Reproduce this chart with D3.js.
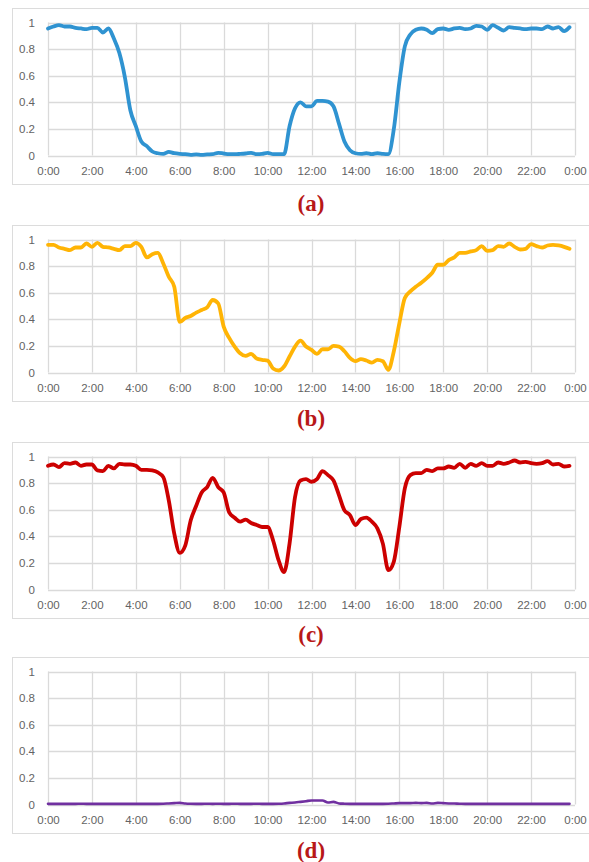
<!DOCTYPE html>
<html>
<head>
<meta charset="utf-8">
<script src="https://cdn.jsdelivr.net/npm/d3@7"></script>
<style>
  body { margin: 0; background: #fff; }
  svg { display: block; }
  .tick text { font-family: "Liberation Sans", Arial, sans-serif; font-size: 11.5px; fill: #636363; }
</style>
</head>
<body>
<svg id="chart"></svg>
<script>
// x categories: one reading every 15 minutes, 0:00 .. 23:45
const stepMinutes = 15;
const timeTicks = [0, 120, 240, 360, 480, 600, 720, 840, 960, 1080, 1200, 1320, 1440];
const timeLabels = ['0:00', '2:00', '4:00', '6:00', '8:00', '10:00', '12:00', '14:00', '16:00', '18:00', '20:00', '22:00', '0:00'];
const yTicks = [0, 0.2, 0.4, 0.6, 0.8, 1];
const yLabels = ['0', '0.2', '0.4', '0.6', '0.8', '1'];

const seriesA = [
  0.955, 0.97, 0.98, 0.97, 0.97, 0.96, 0.955, 0.95, 0.96, 0.96, 0.925, 0.955,
  0.88, 0.77, 0.59, 0.34, 0.22, 0.105, 0.07, 0.03, 0.017, 0.012, 0.027, 0.017,
  0.012, 0.01, 0.005, 0.008, 0.005, 0.008, 0.01, 0.02, 0.015, 0.01, 0.01, 0.012,
  0.015, 0.02, 0.01, 0.012, 0.02, 0.01, 0.01, 0.01, 0.22, 0.355, 0.40, 0.37,
  0.37, 0.41, 0.41, 0.405, 0.37, 0.24, 0.105, 0.04, 0.017, 0.012, 0.017, 0.01,
  0.017, 0.012, 0.01, 0.2, 0.55, 0.82, 0.91, 0.945, 0.955, 0.945, 0.92, 0.95,
  0.955, 0.945, 0.955, 0.96, 0.95, 0.955, 0.975, 0.97, 0.945, 0.98, 0.96, 0.94,
  0.965, 0.96, 0.955, 0.95, 0.955, 0.955, 0.95, 0.97, 0.955, 0.965, 0.935, 0.965
];
const seriesB = [
  0.96, 0.96, 0.94, 0.93, 0.92, 0.94, 0.94, 0.97, 0.945, 0.975, 0.945, 0.94,
  0.93, 0.92, 0.95, 0.95, 0.975, 0.945, 0.865, 0.89, 0.90, 0.82, 0.72, 0.645,
  0.38, 0.41, 0.425, 0.45, 0.47, 0.49, 0.545, 0.52, 0.345, 0.26, 0.195, 0.145,
  0.125, 0.14, 0.105, 0.095, 0.09, 0.03, 0.015, 0.045, 0.12, 0.195, 0.24, 0.195,
  0.17, 0.14, 0.175, 0.175, 0.2, 0.195, 0.16, 0.11, 0.085, 0.1, 0.09, 0.075,
  0.095, 0.085, 0.02, 0.16, 0.37, 0.56, 0.61, 0.645, 0.675, 0.71, 0.75, 0.81,
  0.81, 0.845, 0.865, 0.90, 0.90, 0.91, 0.92, 0.95, 0.915, 0.92, 0.95, 0.945,
  0.97, 0.945, 0.925, 0.93, 0.965, 0.95, 0.94, 0.955, 0.96, 0.955, 0.945, 0.93
];
const seriesC = [
  0.93, 0.94, 0.92, 0.95, 0.945, 0.955, 0.93, 0.94, 0.94, 0.895, 0.89, 0.93,
  0.91, 0.945, 0.94, 0.94, 0.93, 0.90, 0.90, 0.895, 0.88, 0.845, 0.67, 0.42,
  0.275, 0.33, 0.52, 0.63, 0.73, 0.77, 0.84, 0.77, 0.73, 0.58, 0.54, 0.51,
  0.525, 0.50, 0.485, 0.47, 0.47, 0.37, 0.22, 0.13, 0.345, 0.695, 0.82, 0.83,
  0.81, 0.83, 0.89, 0.86, 0.82, 0.71, 0.595, 0.56, 0.485, 0.53, 0.54, 0.51,
  0.46, 0.345, 0.145, 0.21, 0.47, 0.76, 0.86, 0.875, 0.875, 0.90, 0.89, 0.91,
  0.91, 0.925, 0.915, 0.945, 0.915, 0.945, 0.93, 0.95, 0.93, 0.93, 0.955, 0.945,
  0.955, 0.97, 0.955, 0.96, 0.95, 0.945, 0.95, 0.965, 0.94, 0.945, 0.925, 0.93
];
const seriesD = [
  0.005, 0.005, 0.005, 0.005, 0.005, 0.005, 0.006, 0.005, 0.005, 0.005, 0.005, 0.005,
  0.005, 0.005, 0.005, 0.005, 0.005, 0.005, 0.005, 0.005, 0.005, 0.006, 0.008, 0.01,
  0.012, 0.008, 0.006, 0.005, 0.005, 0.006, 0.005, 0.006, 0.005, 0.005, 0.006, 0.005,
  0.005, 0.005, 0.006, 0.005, 0.005, 0.005, 0.006, 0.008, 0.012, 0.015, 0.02, 0.025,
  0.03, 0.03, 0.03, 0.015, 0.02, 0.008, 0.006, 0.005, 0.005, 0.005, 0.005, 0.005,
  0.005, 0.005, 0.006, 0.008, 0.01, 0.01, 0.01, 0.012, 0.01, 0.012, 0.008, 0.012,
  0.01, 0.008, 0.007, 0.006, 0.005, 0.005, 0.005, 0.005, 0.005, 0.005, 0.005, 0.005,
  0.005, 0.005, 0.005, 0.005, 0.005, 0.005, 0.005, 0.005, 0.005, 0.005, 0.005, 0.005
];

const captions = ['(a)', '(b)', '(c)', '(d)'];
const seriesList = [seriesA, seriesB, seriesC, seriesD];
const lineColors = ['#2f93d1', '#ffb405', '#cc0000', '#7030a0'];
const lineWidths = [3.8, 3.8, 3.8, 2.6];

const W = 589, H = 862;
const panelTops = [8, 225, 442, 657];
const boxHeight = 176;
const margin = { top: 14.5, left: 48, right: 14 };
const plotHeight = 133;
const captionY = [203, 418, 634, 850];

const svg = d3.select('#chart').attr('width', W).attr('height', H);
svg.append('rect').attr('width', W).attr('height', H).attr('fill', '#fff');

const x = d3.scaleLinear().domain([0, 1440]).range([margin.left, W - margin.right]);

seriesList.forEach((values, p) => {
  const top = panelTops[p];
  const y = d3.scaleLinear().domain([0, 1]).range([top + margin.top + plotHeight, top + margin.top]);

  // chart area frame
  svg.append('rect')
    .attr('x', 12.5).attr('y', top + 0.5)
    .attr('width', W).attr('height', boxHeight)
    .attr('fill', 'none').attr('stroke', '#dcdcdc');

  const g = svg.append('g');

  g.selectAll('.hgrid').data(yTicks).join('line')
    .attr('x1', x(0)).attr('x2', x(1440))
    .attr('y1', d => Math.round(y(d)) + 0.5).attr('y2', d => Math.round(y(d)) + 0.5)
    .attr('stroke', '#dadada').attr('stroke-width', 1.3);
  g.selectAll('.vgrid').data(timeTicks).join('line')
    .attr('x1', d => Math.round(x(d)) + 0.5).attr('x2', d => Math.round(x(d)) + 0.5)
    .attr('y1', y(1)).attr('y2', y(0))
    .attr('stroke', '#dadada').attr('stroke-width', 1.3);

  g.append('g')
    .attr('transform', `translate(0,${y(0)})`)
    .call(d3.axisBottom(x).tickValues(timeTicks).tickFormat((d, i) => timeLabels[i]).tickSize(0).tickPadding(11))
    .select('.domain').remove();

  g.append('g')
    .attr('transform', `translate(${margin.left},0)`)
    .call(d3.axisLeft(y).tickValues(yTicks).tickFormat((d, i) => yLabels[i]).tickSize(0).tickPadding(13))
    .select('.domain').remove();

  const line = d3.line()
    .x((d, i) => x(i * stepMinutes))
    .y(d => y(d))
    .curve(d3.curveMonotoneX);

  g.append('path')
    .datum(values)
    .attr('fill', 'none')
    .attr('stroke', lineColors[p])
    .attr('stroke-width', lineWidths[p])
    .attr('stroke-linejoin', 'round')
    .attr('stroke-linecap', 'round')
    .attr('d', line);

  svg.append('text')
    .attr('x', 311).attr('y', captionY[p])
    .attr('text-anchor', 'middle').attr('dominant-baseline', 'central')
    .attr('font-family', '"Liberation Serif", "Times New Roman", serif')
    .attr('font-weight', 'bold').attr('font-size', 23)
    .attr('fill', '#b81818')
    .text(captions[p]);
});
</script>
</body>
</html>
